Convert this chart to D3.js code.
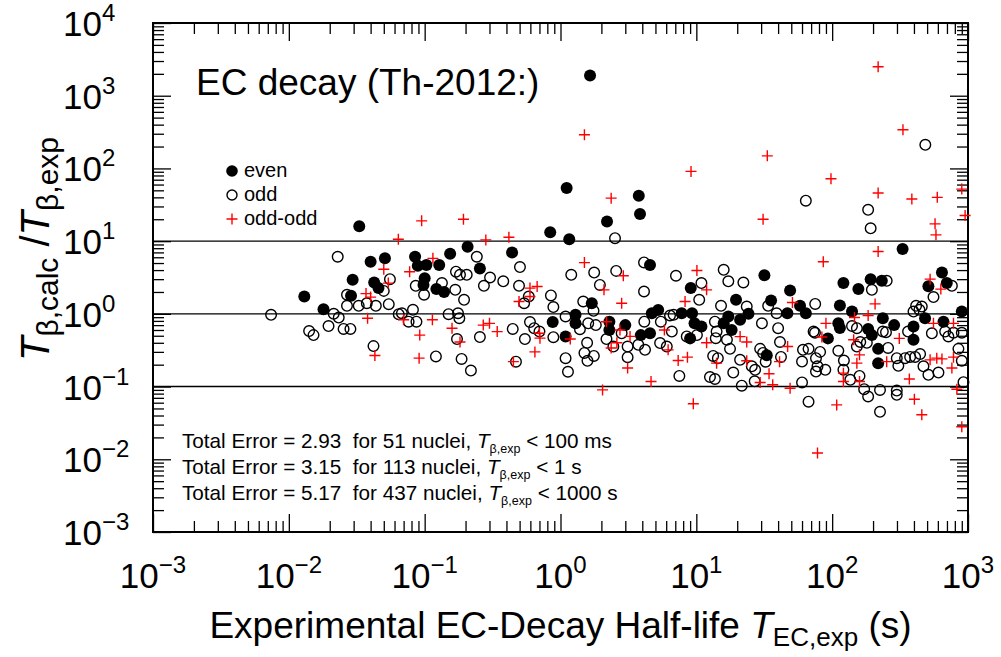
<!DOCTYPE html>
<html>
<head>
<meta charset="utf-8"/>
<title>EC decay (Th-2012:)</title>
<script src="https://cdn.jsdelivr.net/npm/d3@7"></script>
<style>
  body { margin: 0; background: #fff; }
  svg text { font-family: "Liberation Sans", Arial, Helvetica, sans-serif; fill: #000; white-space: pre; }
  .ticks line { stroke: #000; stroke-width: 1.3; }
</style>
</head>
<body>
<div id="chart"></div>
<script>
// [T_EC,exp (s), T_calc/T_exp]
var evenPts = [[1.65,1900],[1.11,54],[0.033,16],[0.013,1.73],[0.018,1.16],[0.0295,2.94],[0.0287,1.77],[0.040,5.2],[0.051,5.8],[0.0425,2.7],[0.0457,2.26],[0.085,6.1],[0.089,4.6],[0.103,4.7],[0.128,4.7],[0.154,6.7],[0.207,8.4],[0.1,3.1],[0.098,2.5],[0.122,2.2],[0.139,2.0],[0.255,4.2],[0.44,7.0],[0.84,13.3],[1.16,10.6],[2.2,18.6],[3.77,42],[3.85,23.6],[4.56,4.7],[1.7,1.4],[1.29,0.97],[1.29,0.74],[0.876,0.77],[1.09,0.49],[2.29,0.78],[2.29,0.60],[3.0,0.70],[3.9,0.51],[4.56,0.54],[4.7,1.02],[5.24,1.13],[9.1,2.26],[7.8,1.02],[9.3,1.02],[9.7,0.74],[9.0,0.46],[330,7.8],[31.7,3.4],[19.6,1.56],[35.5,1.53],[49,2.1],[46.8,1.02],[58,1.29],[64,1.02],[121,2.65],[156,2.19],[192,3.0],[232,2.85],[114,1.3],[140,1.08],[10.9,0.67],[17.2,0.92],[15.9,0.74],[18.2,0.6],[21,0.83],[24.2,1.0],[111,0.74],[114,0.64],[184,0.62],[196,0.51],[236,0.87],[286,0.7],[397,0.67],[397,0.44],[483,0.87],[660,0.78],[218,0.33],[218,0.21],[33,0.27],[93,0.46],[511,2.4],[643,3.7],[698,2.65],[900,1.08]];

var oddPts = [[0.0074,0.97],[0.0229,6.1],[0.0141,0.58],[0.0152,0.51],[0.0196,0.68],[0.0214,1.0],[0.0233,0.89],[0.0253,0.62],[0.0284,0.62],[0.0268,1.29],[0.0327,1.29],[0.0268,1.83],[0.0375,1.4],[0.0437,1.29],[0.0544,1.36],[0.05,2.07],[0.0555,3.0],[0.042,0.36],[0.0644,0.99],[0.068,1.02],[0.0762,0.78],[0.082,1.135],[0.087,0.78],[0.086,2.43],[0.099,1.83],[0.134,2.65],[0.168,2.14],[0.195,1.56],[0.242,6.1],[0.17,3.8],[0.182,3.44],[0.204,3.44],[0.303,3.16],[0.273,2.43],[0.379,2.8],[0.495,2.43],[0.503,4.4],[0.15,0.99],[0.176,1.02],[0.18,0.87],[0.173,0.45],[0.255,0.48],[0.121,0.26],[0.187,0.24],[0.219,0.166],[0.445,0.62],[0.47,0.22],[0.547,0.45],[0.596,0.77],[0.64,0.635],[0.70,0.57],[0.584,1.73],[0.54,1.4],[0.85,1.79],[0.886,1.24],[0.886,0.478],[1.09,0.92],[1.39,0.615],[1.6,0.74],[1.82,0.70],[1.47,1.48],[1.75,1.1],[1.2,3.44],[1.77,3.7],[1.95,2.5],[2.52,11],[2.57,3.9],[4.12,5.1],[4.12,2.03],[7.08,3.34],[10.9,2.65],[1.09,0.246],[1.135,0.16],[1.57,0.40],[1.5,0.29],[1.76,0.264],[1.58,0.226],[2.18,0.45],[2.82,0.54],[2.45,0.355],[3.12,0.355],[3.12,0.254],[3.74,0.375],[4.19,0.32],[4.14,0.78],[5.48,0.78],[5.41,0.396],[6.06,0.355],[6.4,0.95],[6.6,0.57],[6.8,0.97],[7.5,0.14],[8.5,0.49],[10.1,0.51],[10.5,1.56],[64,36],[184,27],[192,15],[15.9,4.03],[17.2,2.8],[22.2,2.7],[15.2,1.29],[23.5,1.26],[33.8,1.29],[39,1.02],[75,1.37],[196,2.14],[252,2.85],[557,1.7],[761,2.43],[415,1.29],[439,1.135],[13.7,0.78],[14.1,0.57],[16.8,0.44],[13.9,0.463],[30.4,0.74],[40,0.635],[17.7,0.33],[13.3,0.264],[14.4,0.246],[12.6,0.135],[13.7,0.127],[18.7,0.156],[21,0.233],[21.6,0.103],[25.6,0.19],[27.1,0.17],[26.9,0.118],[29.5,0.33],[31,0.29],[32.4,0.22],[42,0.256],[60,0.114],[67,0.062],[61,0.32],[67,0.33],[60,0.221],[76,0.246],[78,0.19],[89,0.17],[76,0.161],[73,0.57],[81.5,0.30],[74.7,0.55],[111,0.31],[122,0.228],[121,0.17],[136,0.124],[159,0.14],[172,0.092],[225,0.09],[184,0.073],[225,0.045],[299,0.088],[299,0.077],[152,0.635],[161,0.41],[180,0.40],[236,0.57],[249,0.56],[258,0.34],[299,0.246],[307,0.193],[344,0.246],[375,0.256],[408,0.256],[444,0.28],[470,0.19],[511,0.145],[606,0.156],[542,0.54],[679,0.57],[717,0.49],[782,0.55],[900,0.55],[850,0.33],[900,0.226],[926,0.115],[362,0.57],[397,1.076],[457,1.26],[140,0.68],[152,0.355],[41.3,0.41],[485,211]];

var oddOddPts = [[0.064,10.6],[0.05,4.1],[0.054,2.65],[0.037,1.9],[0.04,1.7],[0.038,0.87],[0.043,0.267],[0.07,0.83],[0.0775,3.8],[0.095,19],[0.193,20],[0.282,10.4],[0.417,11.3],[0.115,5.8],[0.114,0.83],[0.092,0.51],[0.091,0.246],[0.159,0.635],[0.182,0.41],[0.27,0.70],[0.30,0.74],[0.342,0.57],[0.45,0.22],[0.648,0.30],[0.70,0.542],[0.706,0.463],[0.495,1.48],[0.596,2.26],[0.673,2.38],[0.596,1.73],[1.5,5.07],[2.36,39],[2.09,2.14],[2.82,1.4],[2.9,3.34],[2.18,0.78],[2.74,0.60],[3.25,0.49],[2.36,0.34],[2.6,0.40],[1.18,0.45],[3.12,0.18],[2.04,0.09],[4.64,0.1175],[9.5,0.058],[5.82,0.60],[6.2,0.32],[7.35,0.228],[8.6,0.254],[8.26,1.48],[10.1,3.94],[9.14,91],[33.3,149],[98,72],[218,46],[386,38],[594,40],[31,20],[572,17.3],[581,12.2],[900,52],[952,22.5],[218,7.2],[86,5.2],[526,3.0],[631,2.19],[11.9,2.14],[51,1.43],[207,1.37],[184,0.95],[146,0.89],[90,0.74],[84,0.48],[144,0.44],[21,0.487],[23.5,0.41],[11.9,0.40],[47,0.355],[312,0.46],[557,0.74],[782,0.74],[14.1,0.21],[23.5,0.226],[41,0.22],[34.3,0.15],[29.5,0.114],[36.5,0.106],[49,0.095],[159,0.273],[152,0.21],[121,0.153],[121,0.1175],[159,0.1175],[252,0.22],[370,0.127],[526,0.233],[589,0.246],[643,0.24],[782,0.254],[761,0.18],[828,0.092],[108,0.056],[403,0.067],[457,0.041],[900,0.028],[78,0.0122],[218,2500],[332,340],[1.5,290]];

var xExps = [-3, -2, -1, 0, 1, 2, 3];
var yExps = [-3, -2, -1, 0, 1, 2, 3, 4];
var refLines = [10, 1, 0.1];
var legendNames = ["even", "odd", "odd-odd"];
var errValues = ["2.93", "3.15", "5.17"];
var nucleiCounts = ["51", "113", "437"];
var halfLifeLimits = ["100 ms", "1 s", "1000 s"];

var w = 1001, h = 657;
var padL = 153, padR = 968, padT = 23, padB = 532;

var svg = d3.select("#chart").append("svg")
    .attr("width", w)
    .attr("height", h);

var x = d3.scaleLog().domain([1e-3, 1e3]).range([padL, padR]);
var y = d3.scaleLog().domain([1e-3, 1e4]).range([padB, padT]);

function minors(lo, hi) {
    var out = [];
    for (var k = lo; k < hi; k++) {
        for (var j = 2; j <= 9; j++) out.push(j * Math.pow(10, k));
    }
    return out;
}
var xMajor = xExps.map(function(e) { return Math.pow(10, e); });
var yMajor = yExps.map(function(e) { return Math.pow(10, e); });
var xMinor = minors(-3, 3);
var yMinor = minors(-3, 4);

// inward ticks on all four sides
function tickGroup(axis, tx, ty) {
    var g = svg.append("g").attr("class", "ticks")
        .attr("transform", "translate(" + tx + "," + ty + ")")
        .call(axis);
    g.select(".domain").remove();
    g.selectAll("text").remove();
}
[[xMajor, 18], [xMinor, 11]].forEach(function(t) {
    tickGroup(d3.axisBottom(x).tickValues(t[0]).tickSize(-t[1]).tickFormat(""), 0, padB);
    tickGroup(d3.axisTop(x).tickValues(t[0]).tickSize(-t[1]).tickFormat(""), 0, padT);
});
[[yMajor, 18], [yMinor, 11]].forEach(function(t) {
    tickGroup(d3.axisLeft(y).tickValues(t[0]).tickSize(-t[1]).tickFormat(""), padL, 0);
    tickGroup(d3.axisRight(y).tickValues(t[0]).tickSize(-t[1]).tickFormat(""), padR, 0);
});

// reference lines at 10, 1, 0.1
svg.selectAll(".ref").data(refLines).enter().append("line")
    .attr("x1", padL).attr("x2", padR)
    .attr("y1", function(d) { return y(d); })
    .attr("y2", function(d) { return y(d); })
    .attr("stroke", "#000").attr("stroke-width", 1.4);

svg.append("rect")
    .attr("x", padL).attr("y", padT)
    .attr("width", padR - padL).attr("height", padB - padT)
    .attr("fill", "none").attr("stroke", "#000").attr("stroke-width", 2);

function expText(e) { return e < 0 ? "\u2212" + (-e) : "" + e; }

// tick labels
var yl = svg.selectAll(".ylab").data(yExps).enter().append("text")
    .attr("x", 63)
    .attr("y", function(d) { return y(Math.pow(10, d)) + 13; })
    .style("font-size", "35px");
yl.append("tspan").text("10");
yl.append("tspan").attr("dy", -15).style("font-size", "24px").text(function(d) { return expText(d); });

var xl = svg.selectAll(".xlab").data(xExps).enter().append("text")
    .attr("x", function(d) { return x(Math.pow(10, d)); })
    .attr("y", 588)
    .attr("text-anchor", "middle")
    .style("font-size", "35px");
xl.append("tspan").text("10");
xl.append("tspan").attr("dy", -15).style("font-size", "24px").text(function(d) { return expText(d); });

// axis titles
var xt = svg.append("text")
    .attr("x", (padL + padR) / 2).attr("y", 638)
    .attr("text-anchor", "middle")
    .style("font-size", "37px");
xt.append("tspan").text("Experimental EC-Decay Half-life ");
xt.append("tspan").style("font-style", "italic").text("T");
xt.append("tspan").attr("dy", 8).style("font-size", "26px").text("EC,exp");
xt.append("tspan").attr("dy", -8).text(" (s)");

var yt = svg.append("text")
    .attr("transform", "translate(49,249) rotate(-90)")
    .attr("text-anchor", "middle")
    .style("font-size", "40px");
yt.append("tspan").style("font-style", "italic").text("T");
yt.append("tspan").attr("dy", 9).style("font-size", "30px").text("\u03b2,calc");
yt.append("tspan").attr("dy", -9).text(" /");
yt.append("tspan").style("font-style", "italic").text("T");
yt.append("tspan").attr("dy", 9).style("font-size", "30px").text("\u03b2,exp");

svg.append("text").attr("x", 196).attr("y", 95)
    .style("font-size", "37px").text("EC decay (Th-2012:)");

// data points
var plot = svg.append("g");
plot.selectAll(".odd").data(oddPts).enter().append("circle")
    .attr("cx", function(d) { return x(d[0]); })
    .attr("cy", function(d) { return y(d[1]); })
    .attr("r", 5.3)
    .attr("fill", "none").attr("stroke", "#000").attr("stroke-width", 1.4);
plot.selectAll(".even").data(evenPts).enter().append("circle")
    .attr("cx", function(d) { return x(d[0]); })
    .attr("cy", function(d) { return y(d[1]); })
    .attr("r", 6)
    .attr("fill", "#000");
function plusPath(cx, cy, s) {
    return "M" + (cx - s) + "," + cy + "H" + (cx + s) + "M" + cx + "," + (cy - s) + "V" + (cy + s);
}
plot.selectAll(".oo").data(oddOddPts).enter().append("path")
    .attr("d", function(d) { return plusPath(x(d[0]), y(d[1]), 5.5); })
    .attr("stroke", "#ff0000").attr("stroke-width", 1.4).attr("fill", "none");

// legend
var legY = [171, 195, 219];
legendNames.forEach(function(name, i) {
    var ly = legY[i];
    if (i === 0) svg.append("circle").attr("cx", 232).attr("cy", ly).attr("r", 5.8).attr("fill", "#000");
    if (i === 1) svg.append("circle").attr("cx", 232).attr("cy", ly).attr("r", 5).attr("fill", "none").attr("stroke", "#000").attr("stroke-width", 1.4);
    if (i === 2) svg.append("path").attr("d", plusPath(232, ly, 5.5)).attr("stroke", "#ff0000").attr("stroke-width", 1.4);
    svg.append("text").attr("x", 244).attr("y", ly + 5.5).style("font-size", "20px").text(name);
});

// total error summary
var errY = [448, 474, 500];
errValues.forEach(function(v, i) {
    var t = svg.append("text").attr("x", 182).attr("y", errY[i]).style("font-size", "20.7px");
    t.append("tspan").text("Total Error = " + v + "  for " + nucleiCounts[i] + " nuclei, ");
    t.append("tspan").style("font-style", "italic").text("T");
    t.append("tspan").attr("dy", 5).style("font-size", "12.5px").text("\u03b2,exp");
    t.append("tspan").attr("dy", -5).text(" < " + halfLifeLimits[i]);
});
</script>
</body>
</html>
